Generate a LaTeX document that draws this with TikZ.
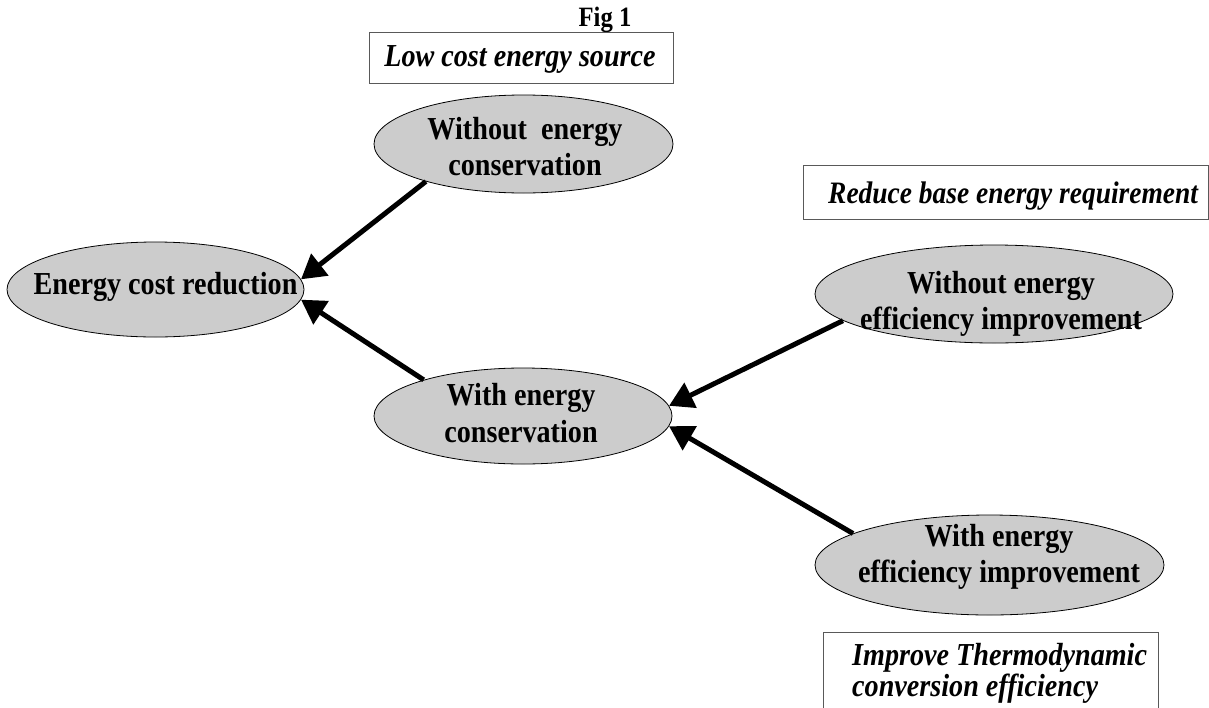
\documentclass[tikz,border=0pt]{standalone}
\usepackage{fontspec}
\setmainfont{Liberation Serif}
\newfontfamily\cf{Liberation Serif}[FakeStretch=0.88]
\usetikzlibrary{arrows.meta,shapes.geometric}
\tikzset{
  oval/.style={ellipse, draw=black, line width=0.8pt, fill=gray!40, inner sep=0pt},
  otext/.style={inner sep=0pt, align=center, font=\fontsize{32}{36}\selectfont\cf\bfseries},
  lbl/.style={inner sep=0pt, font=\fontsize{32}{31}\selectfont\cf\bfseries\itshape},
  frame/.style={draw=black!65, line width=0.9pt},
  arr/.style={line width=5pt, -{Triangle[length=24pt,width=27pt]}}
}
\begin{document}
\begin{tikzpicture}[x=1pt,y=-1pt]
\useasboundingbox (0,0) rectangle (1209,707);
\clip (0,0) rectangle (1209,707);
% title
\node[inner sep=0pt, anchor=base, font=\fontsize{28}{30}\selectfont\cf\bfseries] (fig) at (605,26) {Fig 1};
% label boxes
\draw[frame] (369,32) rectangle (673,83);
\node[lbl, anchor=base] (low) at (520,66.5) {Low cost energy source};
\draw[frame] (803,165) rectangle (1208,219);
\node[lbl, anchor=base west, font=\fontsize{31.2}{31}\selectfont\cf\bfseries\itshape] (reduce) at (828,203) {Reduce base energy requirement};
\draw[frame] (823,632) rectangle (1158,740);
\node[lbl, anchor=north west, align=left] (improve) at (852,643.5) {Improve Thermodynamic\\conversion efficiency};
% ellipses
\node[oval, minimum width=297pt, minimum height=95pt] (ecr) at (155.5,289.5) {};
\node[otext] (ecr-t) at (165.5,286.6) {Energy cost reduction};
\node[oval, minimum width=299pt, minimum height=98pt] (wo) at (523.5,144) {};
\node[otext] (wo-t) at (525,146.5) {Without\ \ energy\\conservation};
\node[oval, minimum width=298pt, minimum height=96pt] (wi) at (523,416) {};
\node[otext, font=\fontsize{32}{37.5}\selectfont\cf\bfseries] (wi-t) at (521,413) {With energy\\conservation};
\node[oval, minimum width=358pt, minimum height=98pt] (woe) at (994,294) {};
\node[otext] (woe-t) at (1001,304) {Without energy\\efficiency improvement};
\node[oval, minimum width=349pt, minimum height=100pt] (wie) at (989.5,565) {};
\node[otext] (wie-t) at (999,557) {With energy\\efficiency improvement};
% arrows
\draw[arr] (wo.201) -- (ecr.4);
\draw[arr] (wi.160) -- (ecr.-4);
\draw[arr] (woe.190) -- (wi.4);
\draw[arr] (wie.167) -- (wi.-4);
\end{tikzpicture}
\end{document}
